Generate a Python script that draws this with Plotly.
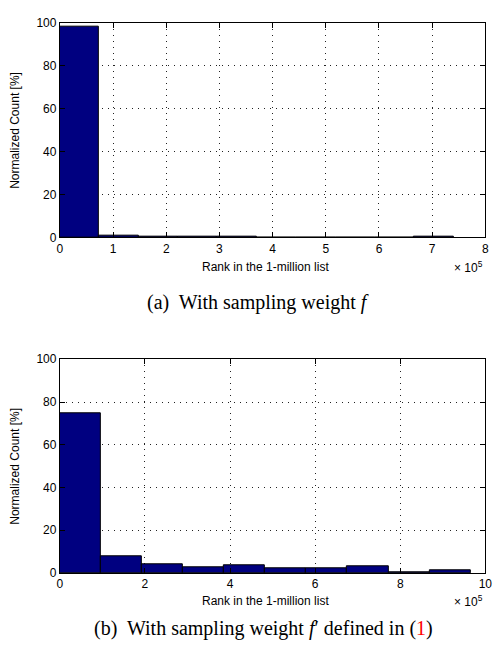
import plotly.graph_objects as go

# ---------------- data ----------------
# (a) sampling weight f : 10 bins over rank 0 .. ~7.4e5
top_bin_width = 74000
top_bin_centers = [37000, 111000, 185000, 259000, 333000, 407000, 481000, 555000, 629000, 703000]
top_values = [98.2, 1.0, 0.35, 0.35, 0.35, 0.0, 0.0, 0.0, 0.0, 0.5]

# (b) sampling weight f' : 10 bins over rank 0 .. ~9.65e5
bot_bin_width = 96500
bot_bin_centers = [48250, 144750, 241250, 337750, 434250, 530750, 627250, 723750, 820250, 916750]
bot_values = [74.8, 7.6, 4.1, 2.7, 3.5, 2.3, 2.3, 2.9, 0.5, 1.1]

top_xticks = [0, 100000, 200000, 300000, 400000, 500000, 600000, 700000, 800000]
top_xticklabels = ["0", "1", "2", "3", "4", "5", "6", "7", "8"]
bot_xticks = [0, 200000, 400000, 600000, 800000, 1000000]
bot_xticklabels = ["0", "2", "4", "6", "8", "10"]
yticks = [0, 20, 40, 60, 80, 100]

W, H = 496, 654
BAR = "#000080"

fig = go.Figure()
fig.add_trace(go.Bar(x=top_bin_centers, y=top_values, width=top_bin_width,
                     marker=dict(color=BAR, line=dict(color="black", width=1)),
                     xaxis="x", yaxis="y", showlegend=False, hoverinfo="skip"))
fig.add_trace(go.Bar(x=bot_bin_centers, y=bot_values, width=bot_bin_width,
                     marker=dict(color=BAR, line=dict(color="black", width=1)),
                     xaxis="x2", yaxis="y2", showlegend=False, hoverinfo="skip"))

def py(px):
    return 1 - px / H

xdom = [58 / W, 492.3 / W]
tickfont = dict(family="Liberation Sans, Arial, sans-serif", size=12, color="black")
common = dict(showline=True, linecolor="black", linewidth=1, mirror="ticks",
              ticks="inside", ticklen=5, tickcolor="black",
              showgrid=True, gridcolor="#222222", griddash="1px,5px", gridwidth=1,
              zeroline=False, tickfont=tickfont, fixedrange=True,
              ticklabeloverflow="allow")

fig.update_layout(
    width=W, height=H,
    margin=dict(l=0, r=0, t=0, b=0),
    paper_bgcolor="white", plot_bgcolor="white",
    bargap=0,
    xaxis=dict(common, domain=xdom, range=[0, 800000], tickvals=top_xticks,
               ticktext=top_xticklabels, anchor="y"),
    yaxis=dict(common, domain=[py(235.5), py(16)], range=[0, 100], tickvals=yticks, anchor="x"),
    xaxis2=dict(common, domain=xdom, range=[0, 1000000], tickvals=bot_xticks,
                ticktext=bot_xticklabels, anchor="y2"),
    yaxis2=dict(common, domain=[py(578.3), py(360)], range=[0, 100], tickvals=yticks, anchor="x2"),
)

small = dict(family="Liberation Sans, Arial, sans-serif", size=12, color="black")
cap = dict(family="Liberation Serif, Times New Roman, serif", size=20, color="black")

ann = []
for ymid, xt_y in [(125.75, 266), (469, 607.3)]:
    ann.append(dict(text="Normalized Count [%]", x=12 / W, y=py(ymid), xref="paper", yref="paper",
                    textangle=-90, showarrow=False, font=small, xanchor="center", yanchor="middle"))
    ann.append(dict(text="Rank in the 1-million list", x=267.5 / W, y=py(xt_y), xref="paper",
                    yref="paper", showarrow=False, font=small, xanchor="center", yanchor="middle"))
    ann.append(dict(text="× 10<sup>5</sup>", x=458 / W, y=py(xt_y), xref="paper", yref="paper",
                    showarrow=False, font=small, xanchor="left", yanchor="middle"))

ann.append(dict(text="(a)&nbsp; With sampling weight <i>f</i>", x=260 / W, y=py(301.7),
                xref="paper", yref="paper", showarrow=False, font=cap,
                xanchor="center", yanchor="middle"))
ann.append(dict(text="(b)&nbsp; With sampling weight <i>f</i>′ defined in (<span style='color:red'>1</span>)",
                x=265.5 / W, y=py(635), xref="paper", yref="paper", showarrow=False, font=cap,
                xanchor="center", yanchor="middle"))
fig.update_layout(annotations=ann)

fig.write_html("out.html", config={"displayModeBar": False},
               post_script="document.body.style.margin='0';")
